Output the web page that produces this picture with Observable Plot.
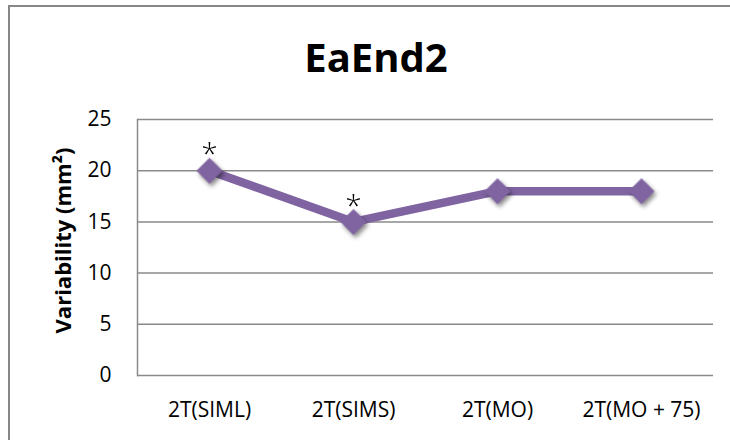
<!DOCTYPE html>
<html>
<head>
<meta charset="utf-8">
<script src="https://cdn.jsdelivr.net/npm/d3@7"></script>
<script src="https://cdn.jsdelivr.net/npm/@observablehq/plot@0.6"></script>
<style>
  html, body { margin: 0; padding: 0; background: #fff; }
  body { width: 730px; height: 440px; overflow: hidden; position: relative; font-family: "Open Sans", sans-serif; }
  #frame { position: absolute; left: 8px; top: 5px; width: 800px; height: 500px; border-left: 2px solid #878787; border-top: 2px solid #878787; box-sizing: border-box; }
  #wrap { position: absolute; left: 0; top: 0; width: 730px; }
  #title { height: 100px; box-sizing: border-box; padding-top: 29px; padding-left: 22px; text-align: center; font-size: 40px; font-weight: bold; line-height: normal; color: #000; }
  #chart svg { display: block; overflow: visible; }
</style>
</head>
<body>
<div id="frame"></div>
<div id="wrap">
  <div id="title">EaEnd2</div>
  <div id="chart"></div>
</div>
<script>
const categories = ["2T(SIML)", "2T(SIMS)", "2T(MO)", "2T(MO + 75)"];
const values = [20, 15, 18, 18];
const significance = ["*", "*", "", ""];
const yTicks = [0, 5, 10, 15, 20, 25];
const yLabel = "Variability (mm²)";

const data = categories.map((c, i) => ({category: c, value: values[i], sig: significance[i]}));
const purple = "#8064A2";

const plot = Plot.plot({
  width: 730,
  height: 340,
  marginLeft: 137,
  marginRight: 17,
  marginTop: 19,
  marginBottom: 65,
  style: {fontFamily: "Open Sans, sans-serif", color: "#000", background: "transparent"},
  x: {type: "point", domain: categories, padding: 0.5, label: null},
  y: {domain: [0, 25], ticks: yTicks, label: null},
  marks: [
    Plot.ruleY(yTicks, {stroke: "#8a8a8a", strokeWidth: 1.5}),
    Plot.frame({anchor: "left", stroke: "#8a8a8a", strokeWidth: 1.5}),
    Plot.axisY({ticks: yTicks, tickSize: 0, tickPadding: 26, label: null, fontSize: 21}),
    Plot.axisX({tickSize: 0, tickPadding: 27, label: null, fontSize: 21}),
    Plot.text([yLabel], {text: d => d, frameAnchor: "left", textAnchor: "middle", lineAnchor: "middle", dx: -74, dy: -7, rotate: -90, fontSize: 22, fontWeight: "bold", fill: "#000"}),
    Plot.line(data, {x: "category", y: "value", stroke: purple, strokeWidth: 8.5, strokeLinejoin: "miter"}),
    Plot.dot(data, {x: "category", y: "value", symbol: "diamond2", r: 11.7, fill: purple, stroke: "none", imageFilter: "drop-shadow(2px 3px 2px rgba(0,0,0,0.45))"}),
    Plot.text(data, {x: "category", y: "value", text: "sig", dy: -16, fontSize: 30, fill: "#000", fontWeight: 300})
  ]
});
document.getElementById("chart").appendChild(plot);
</script>
</body>
</html>
